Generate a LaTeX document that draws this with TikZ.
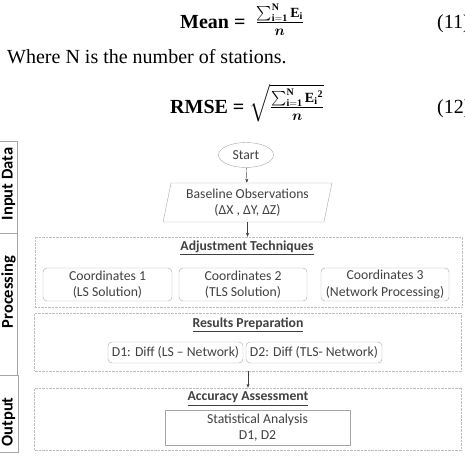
\documentclass[tikz,border=0pt]{standalone}
\usepackage{amsmath}
\usepackage{fontspec}
\setmainfont{Liberation Serif}
\newfontfamily\calib{Carlito}
\usetikzlibrary{shapes.geometric,arrows.meta}
\definecolor{boxgray}{HTML}{A6A6A6}
\definecolor{dotgray}{HTML}{BDBDBD}
\definecolor{txtgray}{HTML}{404040}
\tikzset{
  flowtext/.style={font=\calib\fontsize{13.7}{16.5}\selectfont, text=txtgray, align=center, inner sep=0pt},
  headtext/.style={flowtext, font=\calib\bfseries\fontsize{13.7}{16.5}\selectfont},
  sidetext/.style={headtext, text=black, rotate=90, font=\calib\bfseries\fontsize{16.5}{19}\selectfont},
  roundbox/.style={flowtext, draw=boxgray, rounded corners=4pt},
  groupbox/.style={draw=dotgray, densely dotted, minimum width=427, inner sep=0pt},
  arr/.style={-{Stealth[length=4pt,width=3pt]}, draw=txtgray},
  eqtext/.style={font=\fontsize{20}{24}\selectfont, inner sep=0pt}
}
\begin{document}
\begin{tikzpicture}[x=1pt,y=-1pt]
\useasboundingbox (0,0) rectangle (465,458);
% equations
\node[eqtext, anchor=base west] (mean) at (180,28) {\textbf{Mean =}\ \ $\frac{\sum_{\mathbf{i=1}}^{\mathbf{N}}\mathbf{E}_{\mathbf{i}}}{\boldsymbol{n}}$};
\node[eqtext, anchor=base west] (num11) at (437,28) {(11)};
\node[eqtext, anchor=base west] (where) at (7,63) {Where N is the number of stations.};
\node[eqtext, anchor=base west] (rmse) at (170,113) {\textbf{RMSE =} $\sqrt{\frac{\sum_{\mathbf{i=1}}^{\mathbf{N}}{\mathbf{E}_{\mathbf{i}}}^{\mathbf{2}}}{\boldsymbol{n}}}$};
\node[eqtext, anchor=base west] (num12) at (437,113) {(12)};
% side columns
\draw[boxgray] (-5,141) rectangle (17,233) (-5,233) rectangle (17,375) (-5,375) rectangle (18,452);
\node[sidetext] (inlab) at (8.5,184) {Input Data};
\node[sidetext] (proclab) at (8.5,292) {Processing};
\node[sidetext] (outlab) at (8.5,422) {Output};
% flow
\node[flowtext, draw=boxgray, ellipse, minimum width=55, minimum height=25] (start) at (246,155) {Start};
\node[flowtext, draw=boxgray, trapezium, trapezium left angle=77, trapezium right angle=103, trapezium stretches=true, minimum width=169, minimum height=39] (base) at (247.5,202.5) {Baseline Observations\\(ΔX , ΔY, ΔZ)};
\node[groupbox, minimum height=70] (adj) at (248.5,272) {};
\node[headtext] (adjhead) at (247,248) {\underline{Adjustment Techniques}};
\node[roundbox, minimum width=129, minimum height=33] (coord1) at (107.5,284.5) {Coordinates 1\\(LS Solution)};
\node[roundbox, minimum width=128, minimum height=33] (coord2) at (243,284.5) {Coordinates 2\\(TLS Solution)};
\node[roundbox, minimum width=128, minimum height=33] (coord3) at (385,284.5) {Coordinates 3\\(Network Processing)};
\node[groupbox, minimum height=58] (res) at (248,342) {};
\node[headtext] (reshead) at (248,325) {\underline{Results Preparation}};
\node[roundbox, minimum width=135, minimum height=21] (diff1) at (175.5,352.5) {D1: Diff (LS – Network)};
\node[roundbox, minimum width=136, minimum height=21] (diff2) at (314,352.5) {D2: Diff (TLS- Network)};
\node[groupbox, minimum height=62] (acc) at (248,419) {};
\node[headtext] (acchead) at (248,399) {\underline{Accuracy Assessment}};
\node[flowtext, draw=boxgray, minimum width=185, minimum height=35] (stat) at (257.5,427.5) {Statistical Analysis\\D1, D2};
\draw[arr] (start) -- (base);
\draw[arr] (base.south) -- (base.south |- adj.north);
\draw[arr] (res) -- (acc);
\end{tikzpicture}
\end{document}
